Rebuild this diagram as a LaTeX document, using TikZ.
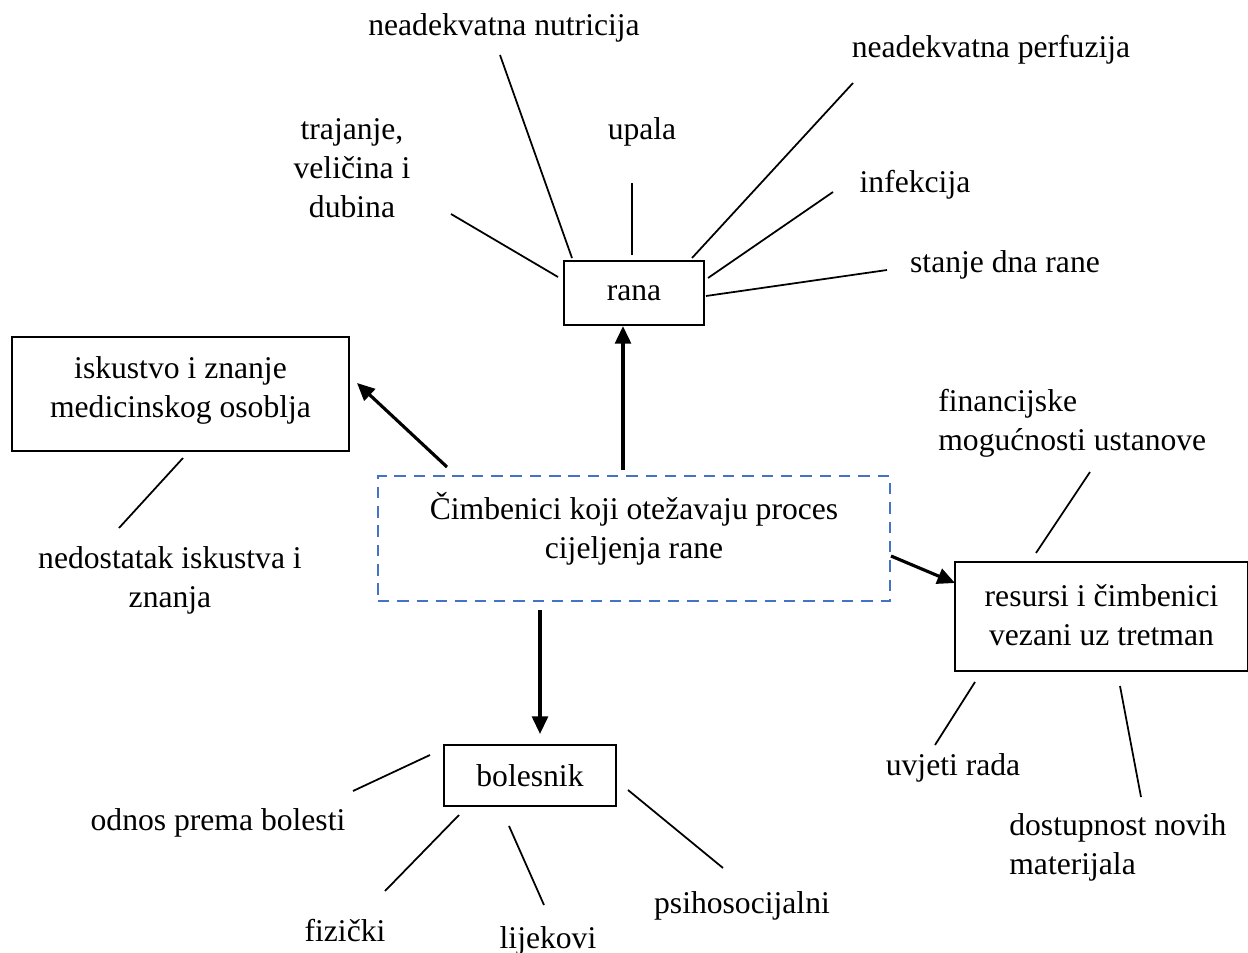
\documentclass[tikz,border=0pt]{standalone}
\usepackage{fontspec}
\setmainfont{Liberation Serif}
\usetikzlibrary{arrows.meta}

\definecolor{plava}{HTML}{4472C4}

\tikzset{
  okvir/.style={draw, line width=1.2pt, align=center},
  isprekidano/.style={draw=plava, line width=1.6pt, dash pattern=on 6.5pt off 4.5pt},
  strelica/.style={-{Triangle[length=10pt,width=9pt]}, line width=1.8pt},
  crta/.style={line width=1pt},
  oznaka/.style={align=center}
}

\begin{document}
\begin{tikzpicture}[x=0.02cm, y=-0.02cm,
    every node/.style={font=\fontsize{18}{22.2}\selectfont, inner sep=0pt}]
  \useasboundingbox (0,0) rectangle (1248,953);

  % okviri
  \node[okvir, minimum width=2.8cm, minimum height=1.28cm] (rana) at (634,293) {rana};
  \node[okvir, minimum width=6.74cm, minimum height=2.28cm] (iskustvo) at (180.5,394) {};
  \node[oznaka] (iskustvotekst) at (180.5,390) {iskustvo i znanje\\medicinskog osoblja};
  \node[isprekidano, minimum width=10.24cm, minimum height=2.5cm] (cimbenici) at (634,538.5) {};
  \node[oznaka] (cimbenicitekst) at (634,529) {Čimbenici koji otežavaju proces\\cijeljenja rane};
  \node[okvir, minimum width=5.86cm, minimum height=2.18cm] (resursi) at (1101.5,616.5) {};
  \node[oznaka] (resursitekst) at (1101.5,615) {resursi i čimbenici\\vezani uz tretman};
  \node[okvir, minimum width=3.44cm, minimum height=1.22cm] (bolesnik) at (530,775.5) {bolesnik};

  % oznake
  \node[oznaka] (nutricija) at (504,28) {neadekvatna nutricija};
  \node[oznaka] (trajanje) at (352,168) {trajanje,\\veličina i\\dubina};
  \node[oznaka] (upala) at (642,132) {upala};
  \node[oznaka] (perfuzija) at (991,50) {neadekvatna perfuzija};
  \node[oznaka] (infekcija) at (915,185) {infekcija};
  \node[oznaka] (stanje) at (1005,265) {stanje dna rane};
  \node[oznaka] (nedostatak) at (170,580) {nedostatak iskustva i\\znanja};
  \node[align=left, anchor=west] (financijske) at (938,423) {financijske\\mogućnosti ustanove};
  \node[oznaka] (uvjeti) at (953,768) {uvjeti rada};
  \node[align=left, anchor=west] (dostupnost) at (1009,847) {dostupnost novih\\materijala};
  \node[oznaka] (odnos) at (218,823) {odnos prema bolesti};
  \node[oznaka] (fizicki) at (345,931) {fizički};
  \node[oznaka] (lijekovi) at (548,941) {lijekovi};
  \node[oznaka] (psiho) at (742,906) {psihosocijalni};

  % krajevi crta
  \coordinate (r1) at (558,277);  \coordinate (r1k) at (451,214);
  \coordinate (r2) at (572,258);  \coordinate (r2k) at (500,55);
  \coordinate (r3) at (632,255);  \coordinate (r3k) at (632,183);
  \coordinate (r4) at (692,258);  \coordinate (r4k) at (853,83);
  \coordinate (r5) at (708,278);  \coordinate (r5k) at (833,192);
  \coordinate (r6) at (706,296);  \coordinate (r6k) at (887,270);
  \coordinate (i1) at (183,458);  \coordinate (i1k) at (119,528);
  \coordinate (t1) at (1036,553); \coordinate (t1k) at (1090,472);
  \coordinate (t2) at (975,682);  \coordinate (t2k) at (935,745);
  \coordinate (t3) at (1120,686); \coordinate (t3k) at (1141,797);
  \coordinate (b1) at (430,755);  \coordinate (b1k) at (353,791);
  \coordinate (b2) at (459,815);  \coordinate (b2k) at (385,891);
  \coordinate (b3) at (509,826);  \coordinate (b3k) at (544,905);
  \coordinate (b4) at (628,790);  \coordinate (b4k) at (723,868);

  \begin{scope}[crta]
    \draw (r1) -- (r1k);
    \draw (r2) -- (r2k);
    \draw (r3) -- (r3k);
    \draw (r4) -- (r4k);
    \draw (r5) -- (r5k);
    \draw (r6) -- (r6k);
    \draw (i1) -- (i1k);
    \draw (t1) -- (t1k);
    \draw (t2) -- (t2k);
    \draw (t3) -- (t3k);
    \draw (b1) -- (b1k);
    \draw (b2) -- (b2k);
    \draw (b3) -- (b3k);
    \draw (b4) -- (b4k);
  \end{scope}

  % strelice
  \coordinate (s1) at (623,470);
  \coordinate (s2) at (447,467);  \coordinate (s2k) at (357,383);
  \coordinate (s3) at (891,556);  \coordinate (s3k) at (955,583);
  \coordinate (s4) at (540,610);  \coordinate (s4k) at (540,734);
  \begin{scope}[strelica]
    \draw (s1) -- (s1 |- rana.south);
    \draw (s2) -- (s2k);
    \draw (s3) -- (s3k);
    \draw (s4) -- (s4k);
  \end{scope}
\end{tikzpicture}
\end{document}
